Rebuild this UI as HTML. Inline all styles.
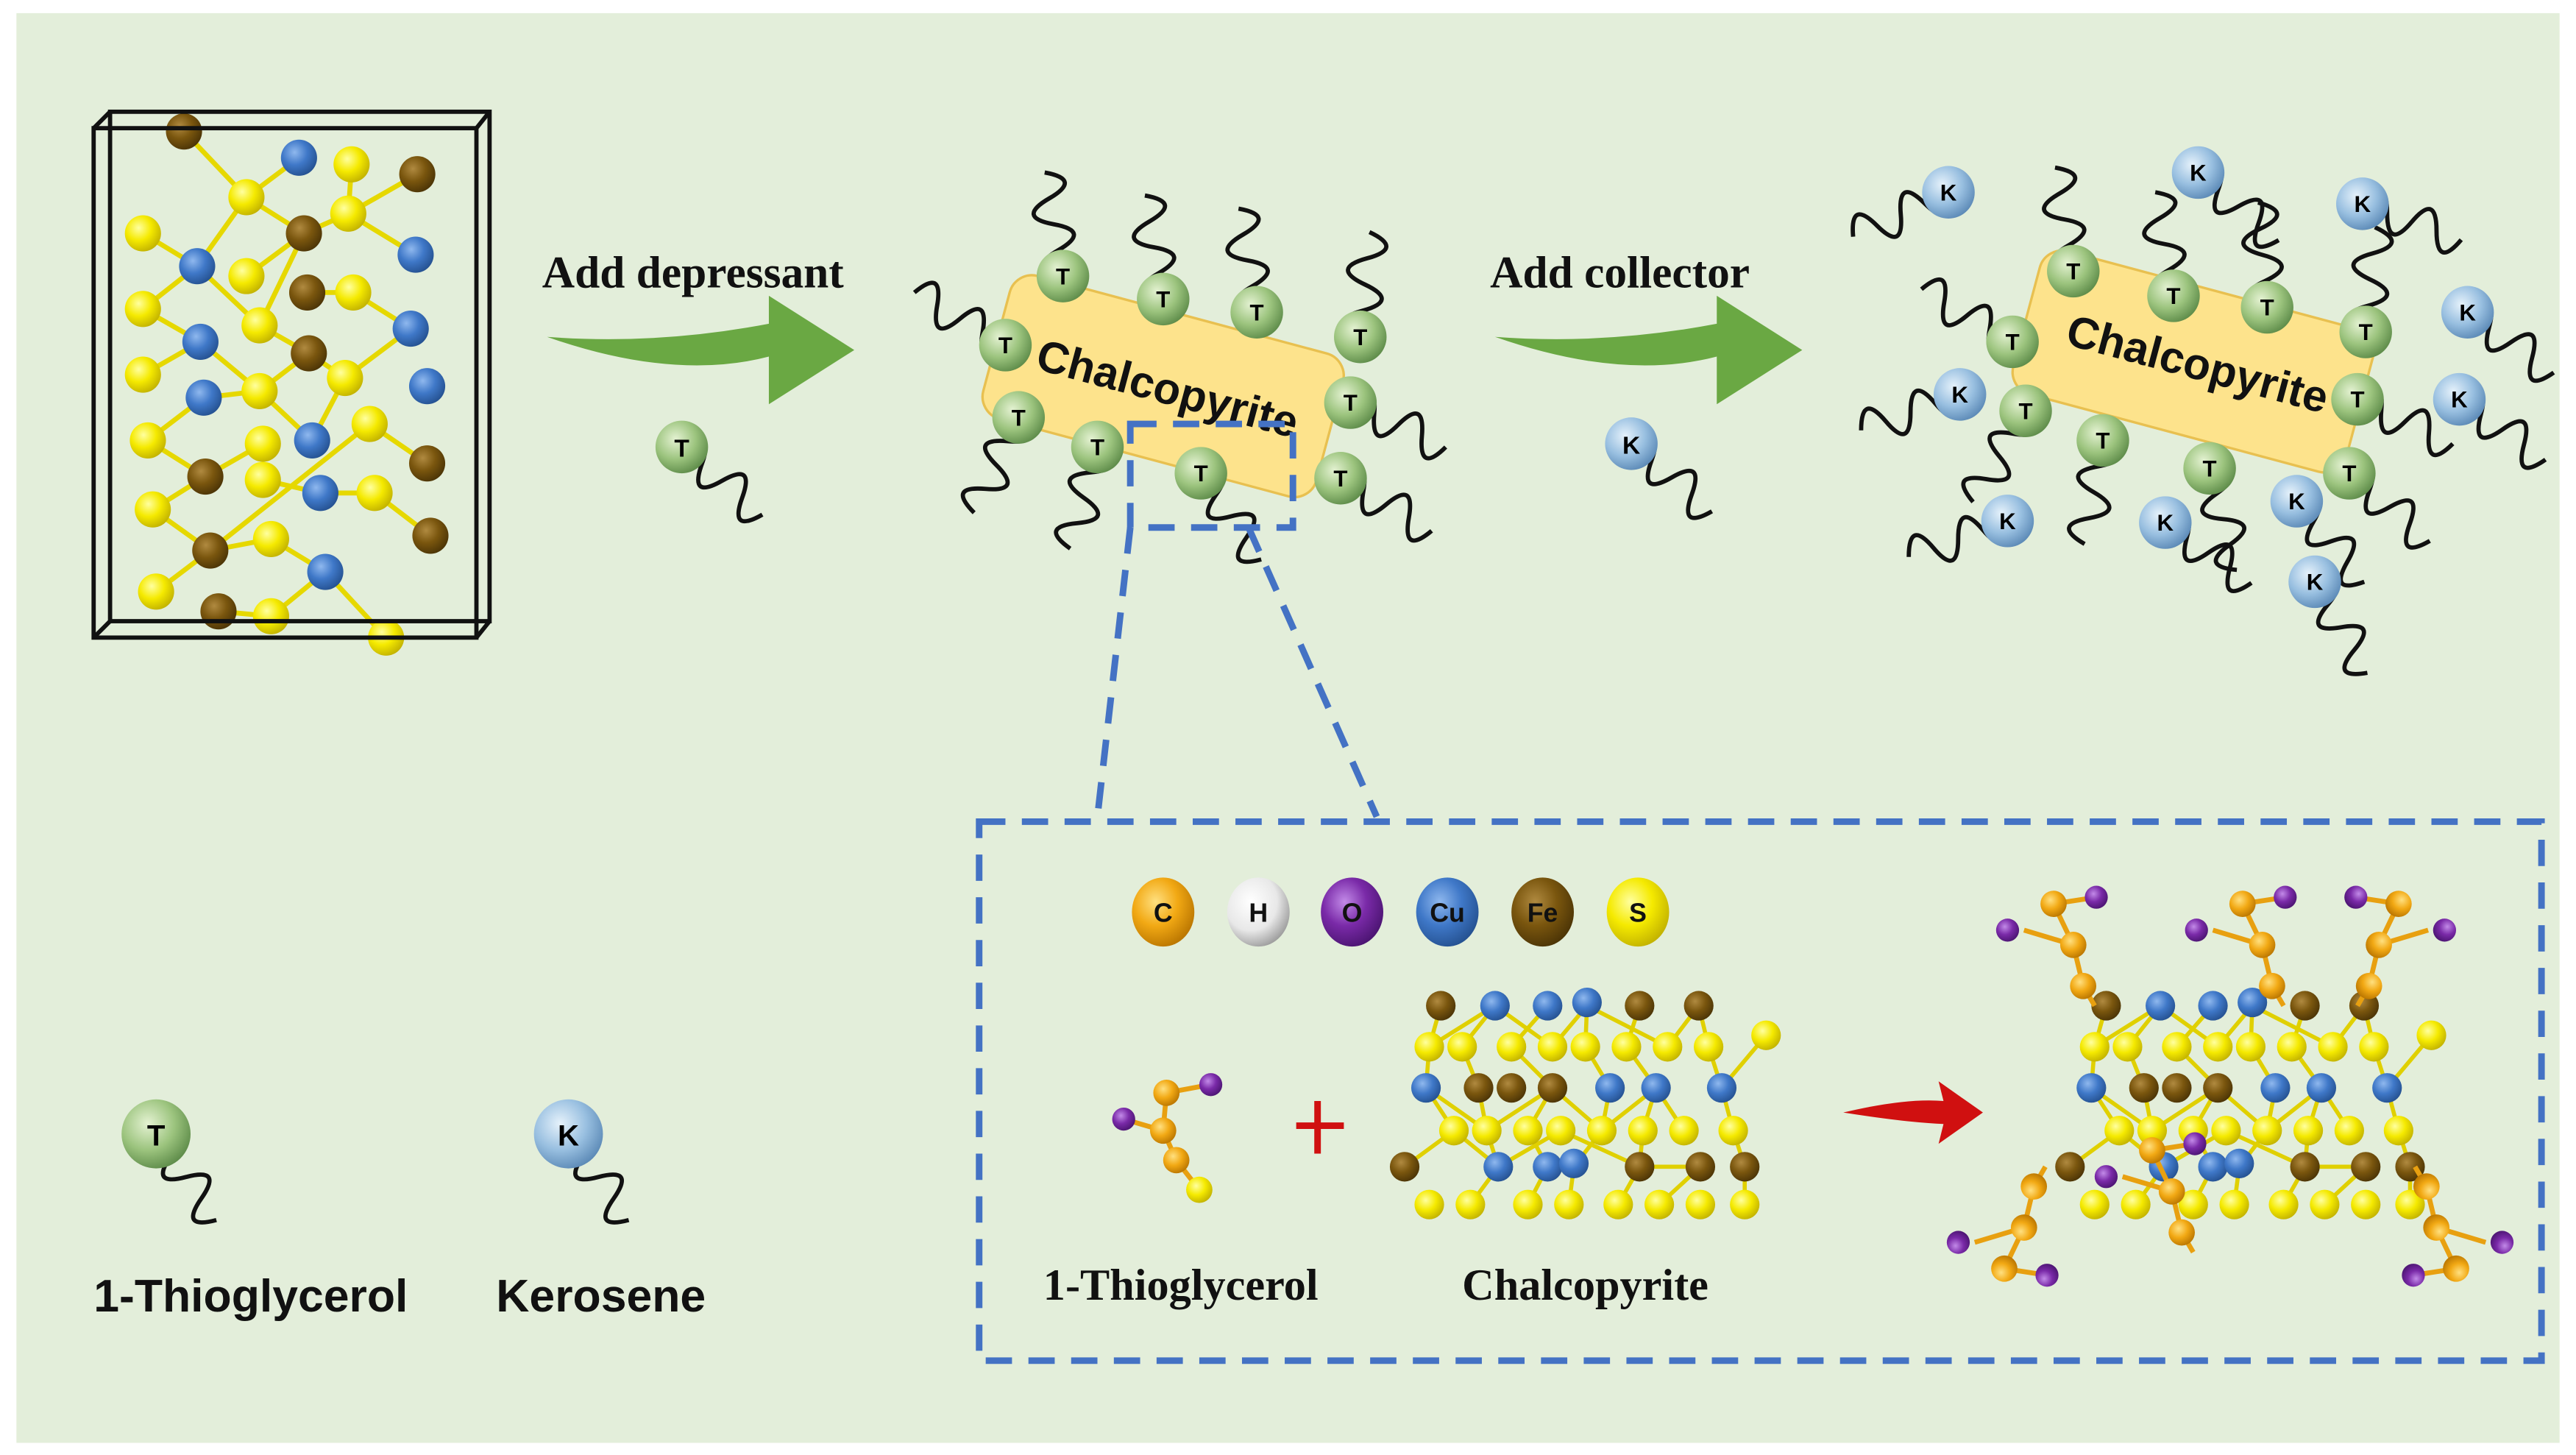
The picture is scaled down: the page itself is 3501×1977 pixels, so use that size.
<!DOCTYPE html>
<html><head><meta charset="utf-8"><style>html,body{margin:0;padding:0;background:#fff}svg{display:block}</style></head>
<body>
<svg width="3501" height="1977" viewBox="0 0 1568 885.4" preserveAspectRatio="none" xmlns="http://www.w3.org/2000/svg">
<defs>
<radialGradient id="gT" cx="0.38" cy="0.35" r="0.7"><stop offset="0" stop-color="#e4f2d2"/><stop offset="0.55" stop-color="#9cc47e"/><stop offset="1" stop-color="#5c8a48"/></radialGradient>
<radialGradient id="gK" cx="0.38" cy="0.35" r="0.7"><stop offset="0" stop-color="#e6f2fb"/><stop offset="0.55" stop-color="#98bfe0"/><stop offset="1" stop-color="#5a88b5"/></radialGradient>
<radialGradient id="gY" cx="0.38" cy="0.35" r="0.7"><stop offset="0" stop-color="#ffffa0"/><stop offset="0.5" stop-color="#f5ea00"/><stop offset="1" stop-color="#c0b000"/></radialGradient>
<radialGradient id="gB" cx="0.38" cy="0.35" r="0.7"><stop offset="0" stop-color="#8fb8ee"/><stop offset="0.5" stop-color="#3f78c8"/><stop offset="1" stop-color="#24508f"/></radialGradient>
<radialGradient id="gF" cx="0.38" cy="0.35" r="0.7"><stop offset="0" stop-color="#b08a40"/><stop offset="0.5" stop-color="#7a560e"/><stop offset="1" stop-color="#4a3306"/></radialGradient>
<radialGradient id="gC" cx="0.38" cy="0.35" r="0.7"><stop offset="0" stop-color="#ffe080"/><stop offset="0.5" stop-color="#f2a914"/><stop offset="1" stop-color="#b87400"/></radialGradient>
<radialGradient id="gH" cx="0.38" cy="0.35" r="0.7"><stop offset="0" stop-color="#ffffff"/><stop offset="0.6" stop-color="#e8e8e8"/><stop offset="1" stop-color="#9a9a9a"/></radialGradient>
<radialGradient id="gO" cx="0.38" cy="0.35" r="0.7"><stop offset="0" stop-color="#c28ae8"/><stop offset="0.5" stop-color="#7a2aa8"/><stop offset="1" stop-color="#4a1470"/></radialGradient>
<path id="sq" d="M0,0 q8,-22 16,0 t16,0 t16,0 t16,0" fill="none" stroke="#111" stroke-width="2.6"/>
</defs>

<rect x="0" y="0" width="1568" height="885.4" fill="#ffffff"/>
<rect x="10" y="8" width="1548" height="870" fill="#e3eeda"/>

<!-- crystal -->
<g stroke-width="3">
<g stroke="#e6d800">
<line x1="112" y1="80" x2="150" y2="120"/><line x1="150" y1="120" x2="182" y2="96"/><line x1="150" y1="120" x2="120" y2="162"/><line x1="150" y1="120" x2="185" y2="142"/>
<line x1="214" y1="100" x2="212" y2="130"/><line x1="212" y1="130" x2="254" y2="106"/><line x1="212" y1="130" x2="185" y2="142"/><line x1="212" y1="130" x2="253" y2="155"/>
<line x1="87" y1="142" x2="120" y2="162"/><line x1="120" y1="162" x2="87" y2="188"/><line x1="120" y1="162" x2="158" y2="198"/>
<line x1="185" y1="142" x2="150" y2="168"/><line x1="185" y1="142" x2="158" y2="198"/><line x1="187" y1="178" x2="215" y2="178"/><line x1="215" y1="178" x2="250" y2="200"/>
<line x1="87" y1="188" x2="122" y2="208"/><line x1="122" y1="208" x2="87" y2="228"/><line x1="122" y1="208" x2="158" y2="238"/><line x1="158" y1="198" x2="188" y2="215"/>
<line x1="188" y1="215" x2="158" y2="238"/><line x1="210" y1="230" x2="188" y2="215"/><line x1="210" y1="230" x2="250" y2="200"/><line x1="210" y1="230" x2="190" y2="268"/>
<line x1="124" y1="242" x2="90" y2="268"/><line x1="124" y1="242" x2="158" y2="238"/><line x1="158" y1="238" x2="190" y2="268"/><line x1="90" y1="268" x2="125" y2="290"/>
<line x1="125" y1="290" x2="160" y2="270"/><line x1="125" y1="290" x2="93" y2="310"/><line x1="160" y1="292" x2="195" y2="300"/><line x1="225" y1="258" x2="260" y2="282"/>
<line x1="228" y1="300" x2="195" y2="300"/><line x1="228" y1="300" x2="262" y2="326"/><line x1="128" y1="335" x2="165" y2="328"/><line x1="128" y1="335" x2="95" y2="360"/>
<line x1="165" y1="328" x2="198" y2="348"/><line x1="198" y1="348" x2="165" y2="375"/><line x1="198" y1="348" x2="235" y2="388"/><line x1="128" y1="335" x2="225" y2="258"/>
<line x1="93" y1="310" x2="128" y2="335"/><line x1="133" y1="372" x2="165" y2="375"/>
</g>
</g>
<g>
<circle cx="112" cy="80" r="11" fill="url(#gF)"/><circle cx="182" cy="96" r="11" fill="url(#gB)"/><circle cx="214" cy="100" r="11" fill="url(#gY)"/><circle cx="254" cy="106" r="11" fill="url(#gF)"/>
<circle cx="150" cy="120" r="11" fill="url(#gY)"/><circle cx="212" cy="130" r="11" fill="url(#gY)"/><circle cx="185" cy="142" r="11" fill="url(#gF)"/><circle cx="87" cy="142" r="11" fill="url(#gY)"/>
<circle cx="120" cy="162" r="11" fill="url(#gB)"/><circle cx="150" cy="168" r="11" fill="url(#gY)"/><circle cx="187" cy="178" r="11" fill="url(#gF)"/><circle cx="253" cy="155" r="11" fill="url(#gB)"/>
<circle cx="87" cy="188" r="11" fill="url(#gY)"/><circle cx="215" cy="178" r="11" fill="url(#gY)"/><circle cx="122" cy="208" r="11" fill="url(#gB)"/><circle cx="158" cy="198" r="11" fill="url(#gY)"/>
<circle cx="250" cy="200" r="11" fill="url(#gB)"/><circle cx="87" cy="228" r="11" fill="url(#gY)"/><circle cx="124" cy="242" r="11" fill="url(#gB)"/><circle cx="188" cy="215" r="11" fill="url(#gF)"/>
<circle cx="210" cy="230" r="11" fill="url(#gY)"/><circle cx="260" cy="235" r="11" fill="url(#gB)"/><circle cx="90" cy="268" r="11" fill="url(#gY)"/><circle cx="158" cy="238" r="11" fill="url(#gY)"/>
<circle cx="125" cy="290" r="11" fill="url(#gF)"/><circle cx="160" cy="270" r="11" fill="url(#gY)"/><circle cx="190" cy="268" r="11" fill="url(#gB)"/><circle cx="225" cy="258" r="11" fill="url(#gY)"/>
<circle cx="260" cy="282" r="11" fill="url(#gF)"/><circle cx="93" cy="310" r="11" fill="url(#gY)"/><circle cx="160" cy="292" r="11" fill="url(#gY)"/><circle cx="195" cy="300" r="11" fill="url(#gB)"/>
<circle cx="228" cy="300" r="11" fill="url(#gY)"/><circle cx="128" cy="335" r="11" fill="url(#gF)"/><circle cx="165" cy="328" r="11" fill="url(#gY)"/><circle cx="262" cy="326" r="11" fill="url(#gF)"/>
<circle cx="95" cy="360" r="11" fill="url(#gY)"/><circle cx="133" cy="372" r="11" fill="url(#gF)"/><circle cx="165" cy="375" r="11" fill="url(#gY)"/><circle cx="198" cy="348" r="11" fill="url(#gB)"/>
<circle cx="235" cy="388" r="11" fill="url(#gY)"/>
</g>
<g fill="none" stroke="#111" stroke-width="2.6">
<rect x="57" y="78" width="233" height="310"/><rect x="67" y="68" width="231" height="310"/>
<line x1="57" y1="78" x2="67" y2="68"/><line x1="290" y1="78" x2="298" y2="68"/><line x1="57" y1="388" x2="67" y2="378"/><line x1="290" y1="388" x2="298" y2="378"/>
</g>

<!-- arrows -->
<path d="M333,205 Q410,232 468,217 L468,246 L520,213 L468,180 L468,197 Q400,210 333,205 Z" fill="#6aa843"/>
<text x="330" y="175" font-family="Liberation Serif, serif" font-weight="bold" font-size="27.5" fill="#111">Add depressant</text>
<path d="M910,205 Q987,232 1045,217 L1045,246 L1097,213 L1045,180 L1045,197 Q977,210 910,205 Z" fill="#6aa843"/>
<text x="907" y="175" font-family="Liberation Serif, serif" font-weight="bold" font-size="27.5" fill="#111">Add collector</text>

<!-- free molecules -->
<use href="#sq" transform="translate(415,272) rotate(40)"/>
<circle cx="415" cy="272" r="16" fill="url(#gT)"/><text x="415" y="278" text-anchor="middle" font-family="Liberation Sans, sans-serif" font-weight="bold" font-size="15">T</text>
<use href="#sq" transform="translate(993,270) rotate(40)"/>
<circle cx="993" cy="270" r="16" fill="url(#gK)"/><text x="993" y="276" text-anchor="middle" font-family="Liberation Sans, sans-serif" font-weight="bold" font-size="15">K</text>

<!-- block 1 -->
<g transform="translate(708,235) rotate(15)"><rect x="-105" y="-45" width="210" height="90" rx="14" fill="#fde38c" stroke="#e8c050" stroke-width="1.5"/>
<text x="3" y="10" text-anchor="middle" font-family="Liberation Sans, sans-serif" font-weight="bold" font-size="27" fill="#111">Chalcopyrite</text></g>
<g font-family="Liberation Sans, sans-serif" font-weight="bold" font-size="14" text-anchor="middle">
<use href="#sq" transform="translate(647,168) rotate(-100)"/><use href="#sq" transform="translate(708,182) rotate(-100)"/><use href="#sq" transform="translate(765,190) rotate(-100)"/><use href="#sq" transform="translate(828,205) rotate(-85)"/>
<use href="#sq" transform="translate(612,210) rotate(-150)"/><use href="#sq" transform="translate(822,245) rotate(25)"/><use href="#sq" transform="translate(620,254) rotate(115)"/><use href="#sq" transform="translate(668,272) rotate(105)"/>
<use href="#sq" transform="translate(731,288) rotate(55)"/><use href="#sq" transform="translate(816,291) rotate(30)"/>
<circle cx="647" cy="168" r="16" fill="url(#gT)"/><text x="647" y="173">T</text>
<circle cx="708" cy="182" r="16" fill="url(#gT)"/><text x="708" y="187">T</text>
<circle cx="765" cy="190" r="16" fill="url(#gT)"/><text x="765" y="195">T</text>
<circle cx="828" cy="205" r="16" fill="url(#gT)"/><text x="828" y="210">T</text>
<circle cx="612" cy="210" r="16" fill="url(#gT)"/><text x="612" y="215">T</text>
<circle cx="822" cy="245" r="16" fill="url(#gT)"/><text x="822" y="250">T</text>
<circle cx="620" cy="254" r="16" fill="url(#gT)"/><text x="620" y="259">T</text>
<circle cx="668" cy="272" r="16" fill="url(#gT)"/><text x="668" y="277">T</text>
<circle cx="731" cy="288" r="16" fill="url(#gT)"/><text x="731" y="293">T</text>
<circle cx="816" cy="291" r="16" fill="url(#gT)"/><text x="816" y="296">T</text>
</g>

<!-- block 2 -->
<g transform="translate(1335,220) rotate(15)"><rect x="-105" y="-45" width="210" height="90" rx="14" fill="#fde38c" stroke="#e8c050" stroke-width="1.5"/>
<text x="3" y="10" text-anchor="middle" font-family="Liberation Sans, sans-serif" font-weight="bold" font-size="27" fill="#111">Chalcopyrite</text></g>
<g font-family="Liberation Sans, sans-serif" font-weight="bold" font-size="14" text-anchor="middle">
<use href="#sq" transform="translate(1262,165) rotate(-100)"/><use href="#sq" transform="translate(1323,180) rotate(-100)"/><use href="#sq" transform="translate(1380,187) rotate(-95)"/><use href="#sq" transform="translate(1440,202) rotate(-85)"/>
<use href="#sq" transform="translate(1225,208) rotate(-150)"/><use href="#sq" transform="translate(1435,243) rotate(25)"/><use href="#sq" transform="translate(1233,250) rotate(120)"/><use href="#sq" transform="translate(1280,268) rotate(100)"/>
<use href="#sq" transform="translate(1345,285) rotate(75)"/><use href="#sq" transform="translate(1430,288) rotate(40)"/>
<use href="#sq" transform="translate(1186,117) rotate(155)"/><use href="#sq" transform="translate(1338,105) rotate(40)"/><use href="#sq" transform="translate(1438,124) rotate(20)"/><use href="#sq" transform="translate(1502,190) rotate(35)"/>
<use href="#sq" transform="translate(1193,240) rotate(160)"/><use href="#sq" transform="translate(1497,243) rotate(35)"/><use href="#sq" transform="translate(1222,317) rotate(160)"/><use href="#sq" transform="translate(1318,318) rotate(35)"/>
<use href="#sq" transform="translate(1398,305) rotate(50)"/><use href="#sq" transform="translate(1409,354) rotate(60)"/>
<circle cx="1262" cy="165" r="16" fill="url(#gT)"/><text x="1262" y="170">T</text>
<circle cx="1323" cy="180" r="16" fill="url(#gT)"/><text x="1323" y="185">T</text>
<circle cx="1380" cy="187" r="16" fill="url(#gT)"/><text x="1380" y="192">T</text>
<circle cx="1440" cy="202" r="16" fill="url(#gT)"/><text x="1440" y="207">T</text>
<circle cx="1225" cy="208" r="16" fill="url(#gT)"/><text x="1225" y="213">T</text>
<circle cx="1435" cy="243" r="16" fill="url(#gT)"/><text x="1435" y="248">T</text>
<circle cx="1233" cy="250" r="16" fill="url(#gT)"/><text x="1233" y="255">T</text>
<circle cx="1280" cy="268" r="16" fill="url(#gT)"/><text x="1280" y="273">T</text>
<circle cx="1345" cy="285" r="16" fill="url(#gT)"/><text x="1345" y="290">T</text>
<circle cx="1430" cy="288" r="16" fill="url(#gT)"/><text x="1430" y="293">T</text>
<circle cx="1186" cy="117" r="16" fill="url(#gK)"/><text x="1186" y="122">K</text>
<circle cx="1338" cy="105" r="16" fill="url(#gK)"/><text x="1338" y="110">K</text>
<circle cx="1438" cy="124" r="16" fill="url(#gK)"/><text x="1438" y="129">K</text>
<circle cx="1502" cy="190" r="16" fill="url(#gK)"/><text x="1502" y="195">K</text>
<circle cx="1193" cy="240" r="16" fill="url(#gK)"/><text x="1193" y="245">K</text>
<circle cx="1497" cy="243" r="16" fill="url(#gK)"/><text x="1497" y="248">K</text>
<circle cx="1222" cy="317" r="16" fill="url(#gK)"/><text x="1222" y="322">K</text>
<circle cx="1318" cy="318" r="16" fill="url(#gK)"/><text x="1318" y="323">K</text>
<circle cx="1398" cy="305" r="16" fill="url(#gK)"/><text x="1398" y="310">K</text>
<circle cx="1409" cy="354" r="16" fill="url(#gK)"/><text x="1409" y="359">K</text>
</g>

<!-- dashed zoom -->
<g fill="none" stroke="#4472c4" stroke-width="4" stroke-dasharray="16,10">
<rect x="688" y="258" width="99" height="63"/>
<line x1="688" y1="321" x2="668" y2="497"/><line x1="760" y1="321" x2="838" y2="497"/>
<rect x="596" y="500" width="951" height="328"/>
</g>

<!-- legend -->
<use href="#sq" transform="translate(95,690) rotate(55)"/>
<circle cx="95" cy="690" r="21" fill="url(#gT)"/><text x="95" y="697" text-anchor="middle" font-family="Liberation Sans, sans-serif" font-weight="bold" font-size="18">T</text>
<use href="#sq" transform="translate(346,690) rotate(55)"/>
<circle cx="346" cy="690" r="21" fill="url(#gK)"/><text x="346" y="697" text-anchor="middle" font-family="Liberation Sans, sans-serif" font-weight="bold" font-size="18">K</text>
<text x="57" y="798" font-family="Liberation Sans, sans-serif" font-weight="bold" font-size="28" fill="#111">1-Thioglycerol</text>
<text x="302" y="798" font-family="Liberation Sans, sans-serif" font-weight="bold" font-size="28" fill="#111">Kerosene</text>

<!-- element key -->
<g font-family="Liberation Sans, sans-serif" font-weight="bold" font-size="16" text-anchor="middle" fill="#111">
<ellipse cx="708" cy="555" rx="19" ry="21" fill="url(#gC)"/><text x="708" y="561">C</text>
<ellipse cx="766" cy="555" rx="19" ry="21" fill="url(#gH)"/><text x="766" y="561">H</text>
<ellipse cx="823" cy="555" rx="19" ry="21" fill="url(#gO)"/><text x="823" y="561">O</text>
<ellipse cx="881" cy="555" rx="19" ry="21" fill="url(#gB)"/><text x="881" y="561">Cu</text>
<ellipse cx="939" cy="555" rx="19" ry="21" fill="url(#gF)"/><text x="939" y="561">Fe</text>
<ellipse cx="997" cy="555" rx="19" ry="21" fill="url(#gY)"/><text x="997" y="561">S</text>
</g>

<!-- thioglycerol molecule -->
<g stroke="#e8a010" stroke-width="3"><line x1="710" y1="665" x2="737" y2="660"/><line x1="710" y1="665" x2="708" y2="688"/><line x1="708" y1="688" x2="684" y2="681"/><line x1="708" y1="688" x2="716" y2="706"/><line x1="716" y1="706" x2="730" y2="724"/></g>
<circle cx="737" cy="660" r="7" fill="url(#gO)"/><circle cx="684" cy="681" r="7" fill="url(#gO)"/>
<circle cx="710" cy="665" r="8" fill="url(#gC)"/><circle cx="708" cy="688" r="8" fill="url(#gC)"/><circle cx="716" cy="706" r="8" fill="url(#gC)"/><circle cx="730" cy="724" r="8" fill="url(#gY)"/>
<path d="M802,670 V702 M789,685 H818" stroke="#d01010" stroke-width="4"/>

<!-- slab -->
<g id="slab">
<g stroke="#e0d000" stroke-width="2.5" fill="none">
<path d="M877,612 L870,637 L868,662 L885,688 L855,710 M910,612 L890,637 L900,662 L905,688 L912,710 L895,733 M942,612 L920,637 L945,662 L930,688 L942,710 L930,733 M966,612 L965,637 L980,662 L975,688 L958,710 L955,733 M998,612 L990,637 L1008,662 L1000,688 L998,710 L985,733 M1034,612 L1040,637 L1048,662 L1055,688 L1062,710 L1062,733 M1075,630 L1048,662 M870,637 L910,612 L945,637 L966,612 L1015,637 L1034,612 M868,662 L905,688 L945,662 L975,688 L1008,662 L1025,688 M885,688 L912,710 L950,688 L998,710 L1035,710 L1010,733"/>
</g>
<g>
<circle cx="877" cy="612" r="9" fill="url(#gF)"/><circle cx="910" cy="612" r="9" fill="url(#gB)"/><circle cx="942" cy="612" r="9" fill="url(#gB)"/><circle cx="966" cy="610" r="9" fill="url(#gB)"/><circle cx="998" cy="612" r="9" fill="url(#gF)"/><circle cx="1034" cy="612" r="9" fill="url(#gF)"/>
<circle cx="870" cy="637" r="9" fill="url(#gY)"/><circle cx="890" cy="637" r="9" fill="url(#gY)"/><circle cx="920" cy="637" r="9" fill="url(#gY)"/><circle cx="945" cy="637" r="9" fill="url(#gY)"/><circle cx="965" cy="637" r="9" fill="url(#gY)"/><circle cx="990" cy="637" r="9" fill="url(#gY)"/><circle cx="1015" cy="637" r="9" fill="url(#gY)"/><circle cx="1040" cy="637" r="9" fill="url(#gY)"/><circle cx="1075" cy="630" r="9" fill="url(#gY)"/>
<circle cx="868" cy="662" r="9" fill="url(#gB)"/><circle cx="900" cy="662" r="9" fill="url(#gF)"/><circle cx="920" cy="662" r="9" fill="url(#gF)"/><circle cx="945" cy="662" r="9" fill="url(#gF)"/><circle cx="980" cy="662" r="9" fill="url(#gB)"/><circle cx="1008" cy="662" r="9" fill="url(#gB)"/><circle cx="1048" cy="662" r="9" fill="url(#gB)"/>
<circle cx="885" cy="688" r="9" fill="url(#gY)"/><circle cx="905" cy="688" r="9" fill="url(#gY)"/><circle cx="930" cy="688" r="9" fill="url(#gY)"/><circle cx="950" cy="688" r="9" fill="url(#gY)"/><circle cx="975" cy="688" r="9" fill="url(#gY)"/><circle cx="1000" cy="688" r="9" fill="url(#gY)"/><circle cx="1025" cy="688" r="9" fill="url(#gY)"/><circle cx="1055" cy="688" r="9" fill="url(#gY)"/>
<circle cx="855" cy="710" r="9" fill="url(#gF)"/><circle cx="912" cy="710" r="9" fill="url(#gB)"/><circle cx="942" cy="710" r="9" fill="url(#gB)"/><circle cx="958" cy="708" r="9" fill="url(#gB)"/><circle cx="998" cy="710" r="9" fill="url(#gF)"/><circle cx="1035" cy="710" r="9" fill="url(#gF)"/><circle cx="1062" cy="710" r="9" fill="url(#gF)"/>
<circle cx="870" cy="733" r="9" fill="url(#gY)"/><circle cx="895" cy="733" r="9" fill="url(#gY)"/><circle cx="930" cy="733" r="9" fill="url(#gY)"/><circle cx="955" cy="733" r="9" fill="url(#gY)"/><circle cx="985" cy="733" r="9" fill="url(#gY)"/><circle cx="1010" cy="733" r="9" fill="url(#gY)"/><circle cx="1035" cy="733" r="9" fill="url(#gY)"/><circle cx="1062" cy="733" r="9" fill="url(#gY)"/>
</g>
</g>
<text x="635" y="791" font-family="Liberation Serif, serif" font-weight="bold" font-size="27" fill="#111">1-Thioglycerol</text>
<text x="890" y="791" font-family="Liberation Serif, serif" font-weight="bold" font-size="27" fill="#111">Chalcopyrite</text>

<!-- red arrow -->
<path d="M1122,677 Q1160,668 1183,670 L1180,658 L1207,677 L1180,696 L1183,684 Q1160,683 1122,677 Z" fill="#d01010"/>

<!-- result -->
<use href="#slab" transform="translate(405,0)"/>
<g id="chain">
<g stroke="#e8a010" stroke-width="3"><path d="M1250,550 L1262,575 L1268,600 L1275,612 M1250,550 L1276,546 M1262,575 L1232,566"/></g>
<circle cx="1276" cy="546" r="7" fill="url(#gO)"/><circle cx="1222" cy="566" r="7" fill="url(#gO)"/>
<circle cx="1250" cy="550" r="8" fill="url(#gC)"/><circle cx="1262" cy="575" r="8" fill="url(#gC)"/><circle cx="1268" cy="600" r="8" fill="url(#gC)"/>
</g>
<use href="#chain" transform="translate(115,0)"/>
<use href="#chain" transform="translate(2710,0) scale(-1,1)"/>
<use href="#chain" transform="translate(-30,1322) scale(1,-1)"/>
<use href="#chain" transform="translate(2745,1322) scale(-1,-1)"/>
<use href="#chain" transform="translate(60,150)"/>
</svg>
</body></html>
